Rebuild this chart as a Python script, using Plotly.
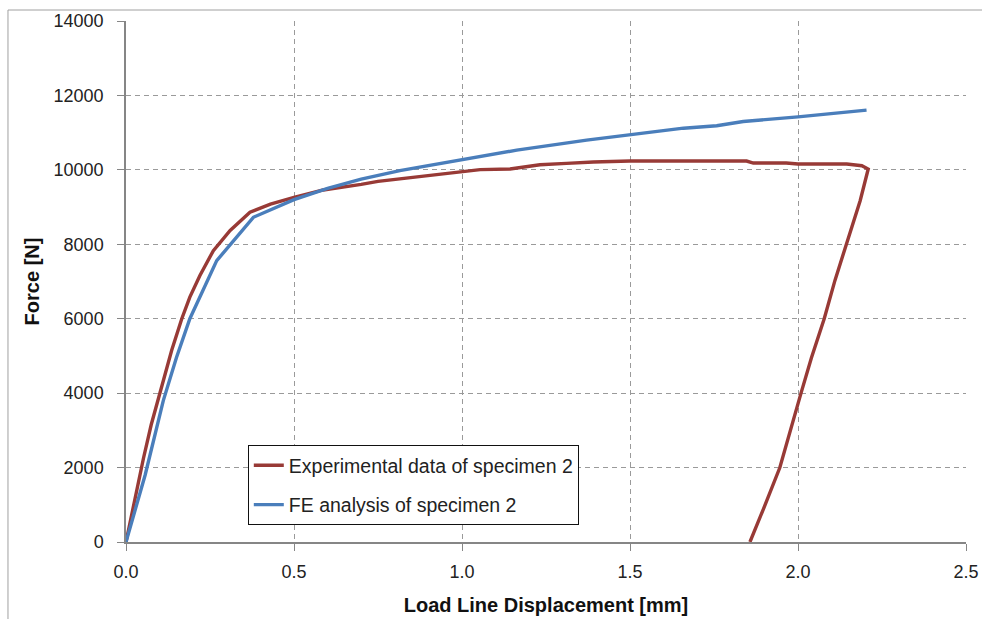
import plotly.graph_objects as go

# Experimental data of specimen 2 (loading + unloading)
exp_x = [0.0, 0.025, 0.052, 0.075, 0.101, 0.136, 0.166, 0.190, 0.220, 0.260, 0.310, 0.369,
         0.430, 0.500, 0.587, 0.650, 0.700, 0.750, 0.815, 0.870, 0.944, 0.980, 1.054,
         1.143, 1.232, 1.311, 1.391, 1.500, 1.650, 1.847, 1.867, 1.965, 2.000, 2.145,
         2.190, 2.209, 2.185, 2.145, 2.110, 2.078, 2.040, 2.009, 1.946, 1.900, 1.857]
exp_y = [0, 1100, 2250, 3150, 4000, 5150, 6000, 6580, 7160, 7830, 8370, 8860,
         9080, 9262, 9460, 9540, 9610, 9690, 9755, 9820, 9888, 9932, 10005,
         10022, 10138, 10173, 10210, 10236, 10240, 10236, 10183, 10183, 10156, 10156,
         10112, 10022, 9172, 8000, 7030, 6000, 4950, 4000, 2000, 950, 0]

# FE analysis of specimen 2
fe_x = [0.0, 0.057, 0.111, 0.150, 0.190, 0.270, 0.379, 0.500, 0.600, 0.700, 0.815,
        1.000, 1.163, 1.371, 1.500, 1.659, 1.758, 1.837, 2.000, 2.204]
fe_y = [0, 1800, 3800, 4950, 6000, 7560, 8725, 9200, 9500, 9750, 9980,
        10270, 10530, 10800, 10935, 11120, 11185, 11300, 11425, 11605]

x_ticks = [0.0, 0.5, 1.0, 1.5, 2.0, 2.5]
y_ticks = [0, 2000, 4000, 6000, 8000, 10000, 12000, 14000]

font_family = "Liberation Sans, Arial, sans-serif"
axis_col = "#868686"
grid_col = "#9a9a9a"

fig = go.Figure()
fig.add_trace(go.Scatter(x=exp_x, y=exp_y, mode="lines",
                         name="Experimental data of specimen 2",
                         line=dict(color="#983a36", width=3.4),
                         legendgroup="a"))
fig.add_trace(go.Scatter(x=fe_x, y=fe_y, mode="lines",
                         name="FE analysis of specimen 2",
                         line=dict(color="#4a7ebb", width=3.4),
                         legendgroup="b"))

fig.update_layout(
    width=982, height=619,
    margin=dict(l=126, r=16, t=21, b=77, autoexpand=False),
    paper_bgcolor="white", plot_bgcolor="white",
    font=dict(family=font_family, size=18, color="#222222"),
    showlegend=True,
    legend=dict(x=0.145, y=0.186, xanchor="left", yanchor="top",
                bordercolor="#111111", borderwidth=1, bgcolor="white",
                font=dict(size=19.5, family=font_family, color="#222222"),
                traceorder="grouped", tracegroupgap=11,
                itemwidth=30),
    shapes=[dict(type="line", xref="paper", yref="paper",
                 x0=-0.1405, x1=1.5, y0=1.0211, y1=1.0211,
                 line=dict(color="#a0a0a0", width=1), layer="below"),
            dict(type="line", xref="paper", yref="paper",
                 x0=-0.1405, x1=-0.1405, y0=-0.5, y1=1.0211,
                 line=dict(color="#a0a0a0", width=1), layer="below")],
)

fig.update_xaxes(range=[0, 2.5], tickvals=x_ticks,
                 ticktext=[f"{v:.1f}" for v in x_ticks],
                 showline=True, linecolor=axis_col, linewidth=1.5,
                 ticks="outside", ticklen=7, tickcolor=axis_col,
                 ticklabelstandoff=6,
                 showgrid=True, gridcolor=grid_col, griddash="5px,4px", gridwidth=1,
                 zeroline=False, mirror=False, automargin=False,
                 title=dict(text="<b>Load Line Displacement [mm]</b>",
                            font=dict(size=20, family=font_family, color="#111111"),
                            standoff=17))
fig.update_yaxes(range=[0, 14000], tickvals=y_ticks,
                 ticktext=[str(v) for v in y_ticks],
                 showline=True, linecolor=axis_col, linewidth=1.5,
                 ticks="outside", ticklen=7, tickcolor=axis_col,
                 ticklabelstandoff=10,
                 showgrid=True, gridcolor=grid_col, griddash="5px,4px", gridwidth=1,
                 zeroline=False, automargin=False,
                 title=dict(text="<b>Force [N]</b>",
                            font=dict(size=20, family=font_family, color="#111111"),
                            standoff=9))

fig.write_html("out.html", config={"displayModeBar": False},
               post_script="document.body.style.margin='0';document.body.style.overflow='hidden';")
